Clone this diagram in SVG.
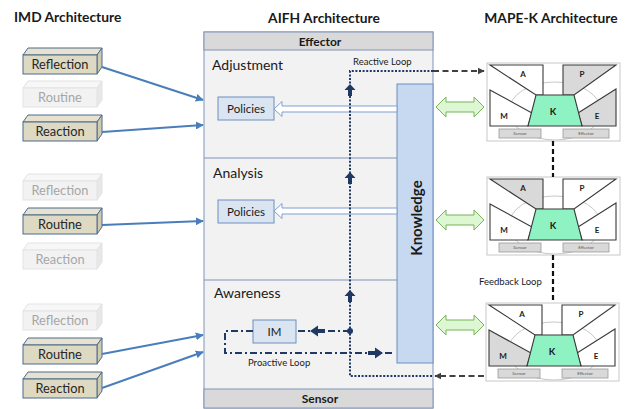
<svg xmlns="http://www.w3.org/2000/svg" width="625" height="409" viewBox="0 0 625 409">
<defs>
<style>
text{font-family:Lato,"Liberation Sans",sans-serif;fill:#1a1a1a}
.title{font-size:13.8px;font-weight:bold}
.sec{font-size:14px}
.lbl{font-size:11.5px}
.small{font-size:9.5px}
.hdr{font-size:12px;font-weight:bold}
.act .f,.act .t,.act .r{fill:#ddd9c3;stroke:#4d6b8c;stroke-width:1}
.act .r{fill:#cfcab0}
.act .t{fill:#e6e2cf}
.act text{fill:#262626;font-size:12.8px}
.fad .f,.fad .t,.fad .r{fill:#f2f2f2;stroke:#e3e3e3;stroke-width:1}
.fad .r{fill:#e8e8e8}
.fad .t{fill:#f7f7f7}
.fad text{fill:#a6a6a6;font-size:12.8px}
.imdarrow{stroke:#4a7ebb;stroke-width:2;fill:none;marker-end:url(#blueHead)}
.pol{fill:#dbe5f1;stroke:#6c8ebf;stroke-width:1}
.hollow{fill:#fff;stroke:#7f9fcf;stroke-width:1}
.reactive{fill:none;stroke:#1f3864;stroke-width:2;stroke-dasharray:2 1.6}
.proactive{fill:none;stroke:#1f3864;stroke-width:2;stroke-dasharray:7 3 2 3}
.navy{fill:#1f3864}
.dash{fill:none;stroke:#404040;stroke-width:2;stroke-dasharray:6 3.5}
.fb{fill:none;stroke:#111;stroke-width:2.2;stroke-dasharray:5 3}
.green{fill:#dcf7d2;stroke:#76b35a;stroke-width:1}
.frame{fill:#fff;stroke:#c8c8c8;stroke-width:1}
.arc{fill:none;stroke:#c8c8c8;stroke-width:1}
.m{fill:#fff;stroke:#3a3a3a;stroke-width:1.1}
.m.hi{fill:#d9d9d9}
.k{fill:#8ff2c2;stroke:#3a3a3a;stroke-width:1.1}
.mk{font-size:8px;font-weight:bold;text-anchor:middle}
.kk{font-size:9.5px;font-weight:bold;text-anchor:middle}
.sb{fill:#d9d9d9;stroke:#9a9a9a;stroke-width:0.8}
.st{font-size:4.5px;fill:#555;text-anchor:middle}
</style>
<marker id="blueHead" viewBox="0 0 10 10" refX="9" refY="5" markerWidth="4" markerHeight="4" orient="auto" markerUnits="strokeWidth">
<path d="M0,0 L10,5 L0,10 z" fill="#4a7ebb"/>
</marker>
<marker id="darkHead" viewBox="0 0 10 10" refX="9" refY="5" markerWidth="3.6" markerHeight="3.6" orient="auto" markerUnits="strokeWidth">
<path d="M0,0 L10,5 L0,10 z" fill="#404040"/>
</marker>
</defs>

<rect width="625" height="409" fill="#fff"/>

<!-- Titles -->
<text class="title" x="14" y="22">IMD Architecture</text>
<text class="title" x="324" y="23" text-anchor="middle">AIFH Architecture</text>
<text class="title" x="551" y="23" text-anchor="middle">MAPE-K Architecture</text>

<!-- IMD boxes -->
<g id="imd-reflection-1" class="act" transform="translate(0,55)">
<polygon class="t" points="23,0 28,-7 102,-7 97,0"/><polygon class="r" points="97,0 102,-7 102,12 97,19"/><rect class="f" x="23" y="0" width="74" height="19"/><text x="60" y="14" text-anchor="middle">Reflection</text></g>
<g id="imd-routine-1" class="fad" transform="translate(0,88)">
<polygon class="t" points="23,0 28,-7 102,-7 97,0"/><polygon class="r" points="97,0 102,-7 102,12 97,19"/><rect class="f" x="23" y="0" width="74" height="19"/><text x="60" y="14" text-anchor="middle">Routine</text></g>
<g id="imd-reaction-1" class="act" transform="translate(0,122)">
<polygon class="t" points="23,0 28,-7 102,-7 97,0"/><polygon class="r" points="97,0 102,-7 102,12 97,19"/><rect class="f" x="23" y="0" width="74" height="19"/><text x="60" y="14" text-anchor="middle">Reaction</text></g>

<g id="imd-reflection-2" class="fad" transform="translate(0,181)">
<polygon class="t" points="23,0 28,-7 102,-7 97,0"/><polygon class="r" points="97,0 102,-7 102,12 97,19"/><rect class="f" x="23" y="0" width="74" height="19"/><text x="60" y="14" text-anchor="middle">Reflection</text></g>
<g id="imd-routine-2" class="act" transform="translate(0,215)">
<polygon class="t" points="23,0 28,-7 102,-7 97,0"/><polygon class="r" points="97,0 102,-7 102,12 97,19"/><rect class="f" x="23" y="0" width="74" height="19"/><text x="60" y="14" text-anchor="middle">Routine</text></g>
<g id="imd-reaction-2" class="fad" transform="translate(0,250)">
<polygon class="t" points="23,0 28,-7 102,-7 97,0"/><polygon class="r" points="97,0 102,-7 102,12 97,19"/><rect class="f" x="23" y="0" width="74" height="19"/><text x="60" y="14" text-anchor="middle">Reaction</text></g>

<g id="imd-reflection-3" class="fad" transform="translate(0,311)">
<polygon class="t" points="23,0 28,-7 102,-7 97,0"/><polygon class="r" points="97,0 102,-7 102,12 97,19"/><rect class="f" x="23" y="0" width="74" height="19"/><text x="60" y="14" text-anchor="middle">Reflection</text></g>
<g id="imd-routine-3" class="act" transform="translate(0,345)">
<polygon class="t" points="23,0 28,-7 102,-7 97,0"/><polygon class="r" points="97,0 102,-7 102,12 97,19"/><rect class="f" x="23" y="0" width="74" height="19"/><text x="60" y="14" text-anchor="middle">Routine</text></g>
<g id="imd-reaction-3" class="act" transform="translate(0,379)">
<polygon class="t" points="23,0 28,-7 102,-7 97,0"/><polygon class="r" points="97,0 102,-7 102,12 97,19"/><rect class="f" x="23" y="0" width="74" height="19"/><text x="60" y="14" text-anchor="middle">Reaction</text></g>

<!-- AIFH -->
<g id="aifh">
<rect x="204" y="32" width="229" height="376" fill="#f2f2f2" stroke="#7f96b8" stroke-width="1"/>
<rect x="204" y="32" width="229" height="18" fill="#d9d9d9" stroke="#7f96b8" stroke-width="1"/>
<rect x="204" y="389" width="229" height="19" fill="#d9d9d9" stroke="#7f96b8" stroke-width="1"/>
<line x1="204" y1="158" x2="398" y2="158" stroke="#7f96b8"/>
<line x1="204" y1="280" x2="398" y2="280" stroke="#7f96b8"/>
<text class="hdr" x="320" y="46" text-anchor="middle">Effector</text>
<text class="hdr" x="320" y="403" text-anchor="middle">Sensor</text>
<text class="sec" x="212" y="70">Adjustment</text>
<text class="sec" x="213" y="178">Analysis</text>
<text class="sec" x="214" y="298">Awareness</text>
</g>

<g id="knowledge">
<rect x="397" y="84" width="36" height="279" fill="#c6d9f1" stroke="#6c8ebf" stroke-width="1"/>
<text x="0" y="0" transform="translate(422,218) rotate(-90)" text-anchor="middle" style="font-size:15px;font-weight:bold">Knowledge</text>
</g>

<g id="policies-1"><rect class="pol" x="218" y="97" width="56" height="23"/><text class="lbl" x="246" y="112.5" text-anchor="middle">Policies</text></g>
<g id="policies-2"><rect class="pol" x="218" y="200" width="56" height="23"/><text class="lbl" x="246" y="215.5" text-anchor="middle">Policies</text></g>
<g id="im"><rect class="pol" x="253" y="320" width="43" height="23"/><text class="lbl" x="274.5" y="335.5" text-anchor="middle">IM</text></g>

<!-- MAPE-K blocks -->
<g id="mapek-1">
<rect class="frame" x="487" y="63" width="133" height="78"/>
<ellipse class="arc" cx="555" cy="111" rx="46" ry="29"/>
<polygon class="m" points="490,65 543,65 543,95 536,95"/>
<polygon class="m hi" points="563,65 616,65 574,95 563,95"/>
<polygon class="m" points="490,90 532,113 528,126 490,126"/>
<polygon class="m hi" points="616,89 578,113 582,126 616,126"/>
<polygon class="k" points="536,95 574,95 582,126 528,126"/>
<text class="mk" x="523" y="77">A</text><text class="mk" x="582" y="77">P</text><text class="mk" x="504" y="119">M</text><text class="mk" x="597" y="119">E</text><text class="kk" x="553" y="115">K</text>
<rect class="sb" x="499" y="129" width="42" height="9"/><text class="st" x="520" y="135.3">Sensor</text>
<rect class="sb" x="563" y="129" width="46" height="9"/><text class="st" x="586" y="135.3">Effector</text>
</g>
<g id="mapek-2" transform="translate(0,114)">
<rect class="frame" x="487" y="63" width="133" height="78"/>
<ellipse class="arc" cx="555" cy="111" rx="46" ry="29"/>
<polygon class="m hi" points="490,65 543,65 543,95 536,95"/>
<polygon class="m" points="563,65 616,65 574,95 563,95"/>
<polygon class="m" points="490,90 532,113 528,126 490,126"/>
<polygon class="m" points="616,89 578,113 582,126 616,126"/>
<polygon class="k" points="536,95 574,95 582,126 528,126"/>
<text class="mk" x="523" y="77">A</text><text class="mk" x="582" y="77">P</text><text class="mk" x="504" y="119">M</text><text class="mk" x="597" y="119">E</text><text class="kk" x="553" y="115">K</text>
<rect class="sb" x="499" y="129" width="42" height="9"/><text class="st" x="520" y="135.3">Sensor</text>
<rect class="sb" x="563" y="129" width="46" height="9"/><text class="st" x="586" y="135.3">Effector</text>
</g>
<g id="mapek-3" transform="translate(-1,240)">
<rect class="frame" x="487" y="63" width="133" height="78"/>
<ellipse class="arc" cx="555" cy="111" rx="46" ry="29"/>
<polygon class="m" points="490,65 543,65 543,95 536,95"/>
<polygon class="m" points="563,65 616,65 574,95 563,95"/>
<polygon class="m hi" points="490,90 532,113 528,126 490,126"/>
<polygon class="m" points="616,89 578,113 582,126 616,126"/>
<polygon class="k" points="536,95 574,95 582,126 528,126"/>
<text class="mk" x="523" y="77">A</text><text class="mk" x="582" y="77">P</text><text class="mk" x="504" y="119">M</text><text class="mk" x="597" y="119">E</text><text class="kk" x="553" y="115">K</text>
<rect class="sb" x="499" y="129" width="42" height="9"/><text class="st" x="520" y="135.3">Sensor</text>
<rect class="sb" x="563" y="129" width="46" height="9"/><text class="st" x="586" y="135.3">Effector</text>
</g>

<!-- Connectors -->
<g id="connectors">
<path class="imdarrow" d="M102,67 L203,100"/>
<path class="imdarrow" d="M102,132 L203,125"/>
<path class="imdarrow" d="M102,225 L203,221"/>
<path class="imdarrow" d="M102,354 L203,335"/>
<path class="imdarrow" d="M102,388 L203,352"/>

<polygon class="hollow" points="274,109 282,101.5 282,106 397,106 397,112 282,112 282,116.5"/>
<polygon class="hollow" points="274,211 282,203.5 282,208 397,208 397,214 282,214 282,218.5"/>

<path class="reactive" d="M433,71 H350 V376 H433"/>
<polygon class="navy" points="350,84 355.5,90 352,90 352,96 348,96 348,90 344.5,90"/>
<polygon class="navy" points="350,172 355.5,178 352,178 352,184 348,184 348,178 344.5,178"/>
<polygon class="navy" points="350,290 355.5,296 352,296 352,302 348,302 348,296 344.5,296"/>
<text class="small" x="353" y="65">Reactive Loop</text>
<path class="dash" d="M433,71 H484" marker-end="url(#darkHead)"/>
<path class="dash" d="M484,376 H435" marker-end="url(#darkHead)"/>

<path class="proactive" d="M350,331 H296"/>
<path class="proactive" d="M253,331 H225 V353 H394"/>
<circle class="navy" cx="350" cy="331" r="3"/>
<polygon class="navy" points="310,331 318,325.5 318,329 325,329 325,333 318,333 318,336.5"/>
<polygon class="navy" points="383,353 375,347.5 375,351 368,351 368,355 375,355 375,358.5"/>
<text class="small" x="248" y="366">Proactive Loop</text>

<polygon class="green" points="436,107 446,97 446,102 474,102 474,97 484,107 474,117 474,112 446,112 446,117"/>
<polygon class="green" points="436,220 446,210 446,215 474,215 474,210 484,220 474,230 474,225 446,225 446,230"/>
<polygon class="green" points="436,325 446,315 446,320 474,320 474,315 484,325 474,335 474,330 446,330 446,335"/>

<path class="fb" d="M553,141 V177"/>
<path class="fb" d="M553,255 V303"/>
<text class="small" x="479" y="285">Feedback Loop</text>
</g>
</svg>
